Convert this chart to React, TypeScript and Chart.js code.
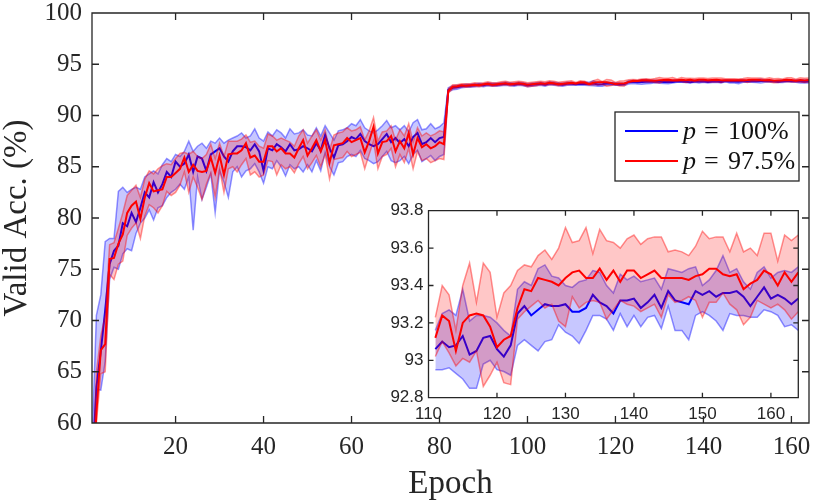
import { useEffect, useRef } from "react";
import { Chart, registerables } from "chart.js";

Chart.register(...registerables);

// epochs 1..164
const epochs = Array.from({ length: 164 }, (_, i) => i + 1);

// p = 100%
const blueMean = [
  55, 63.5, 67, 71, 75.5, 76.8, 77.3, 79.5, 79.2, 80.5,
  79.6, 81, 82.5, 82, 83.5, 82.5, 83.3, 84.5, 84, 85.5,
  85, 85.3, 86.2, 84.5, 86, 85.8, 84.6, 86.2, 86.5, 86.8,
  86, 85.5, 86.5, 87, 87, 86.9, 86.6, 87.2, 86.5, 84.6,
  86.8, 86.6, 87.2, 86.9, 86.5, 87.2, 86.6, 86.7, 87, 86.8,
  86.5, 87.3, 86.6, 88.1, 86.8, 85.9, 87.1, 87.2, 87.5, 87.9,
  87.7, 88.2, 87.5, 87.2, 87, 87.2, 87.7, 88.2, 87.4, 87.8,
  87.3, 87.7, 87, 87.9, 88.3, 87.2, 87.4, 87.8, 87.4, 87.8,
  87.9, 92.5, 92.7, 92.75, 92.85, 92.9, 92.9, 92.95, 93, 92.95,
  93.05, 93, 93, 93.05, 93.1, 93.05, 93, 93.1, 93.05, 92.95,
  93, 93.05, 93.1, 93, 93.15, 93.1, 93.05, 93, 93.1, 93.1,
  93.06, 93.1, 93.07, 93.08, 93.13, 93.03, 93.05, 93.12, 93.13, 93.06,
  93.02, 93.08, 93.25, 93.29, 93.24, 93.27, 93.3, 93.29, 93.29, 93.3,
  93.26, 93.26, 93.28, 93.35, 93.31, 93.29, 93.25, 93.32, 93.32, 93.33,
  93.28, 93.31, 93.35, 93.28, 93.37, 93.32, 93.31, 93.3, 93.37, 93.35,
  93.37, 93.34, 93.36, 93.36, 93.37, 93.34, 93.29, 93.34, 93.39, 93.33,
  93.35, 93.33, 93.3, 93.33,
];
const blueLow = [
  52, 63.3, 63.2, 66, 74, 75.2, 75, 76.5, 77, 76.8,
  78.5, 79.5, 80, 80.8, 79.8, 81, 81.2, 82, 82.5, 82.8,
  83.3, 82.8, 84, 78.8, 84, 81.8, 83, 84.3, 80.5, 84.6,
  83.5, 82, 84.5, 85, 84, 84.6, 84.8, 85.3, 84.5, 83.4,
  85, 84.8, 85.6, 85, 84.1, 85.2, 84.8, 85, 84.5, 85.2,
  84.5, 85.6, 84.6, 86.4, 85, 84.2, 85.4, 85.5, 86, 86.2,
  86, 86.6, 85.8, 85.6, 85.3, 85.5, 86, 86.5, 85.6, 85.4,
  85.6, 86, 85.3, 86.2, 86.6, 85.5, 85.8, 86.1, 85.6, 86,
  86.2, 92.3, 92.5, 92.55, 92.7, 92.75, 92.75, 92.8, 92.85, 92.8,
  92.9, 92.85, 92.85, 92.9, 92.95, 92.9, 92.85, 92.95, 92.9, 92.8,
  92.85, 92.9, 92.95, 92.85, 93, 92.95, 92.9, 92.85, 92.95, 92.95,
  92.95, 92.95, 92.96, 92.93, 92.9, 92.85, 92.85, 92.98, 93, 92.95,
  92.94, 92.92, 93.08, 93.11, 93.08, 93.05, 93.1, 93.11, 93.19, 93.15,
  93.13, 93.09, 93.16, 93.24, 93.24, 93.22, 93.16, 93.25, 93.18, 93.24,
  93.18, 93.23, 93.24, 93.17, 93.29, 93.16, 93.16, 93.11, 93.24, 93.26,
  93.24, 93.21, 93.16, 93.25, 93.24, 93.24, 93.23, 93.23, 93.27, 93.26,
  93.24, 93.18, 93.19, 93.16,
];
const blueHigh = [
  58, 70.5, 72.5, 77.7, 78, 78, 82.6, 83, 82.5, 82.8,
  83, 82.8, 84, 84.3, 84.6, 84.3, 85.2, 85.8, 85.5, 86.2,
  86, 86.5, 87.5, 86.5, 87, 87.3, 86.8, 87.5, 87.3, 87.8,
  87.3, 87.6, 87.8, 88, 88.3, 87.8, 88, 88.7, 87.8, 87.5,
  88.4, 88, 88.6, 88.3, 87.8, 88.7, 88.2, 88.3, 88.6, 88.1,
  88, 88.8, 88, 89, 88.3, 87.6, 88.5, 88.6, 88.8, 89.2,
  89, 89.6, 88.8, 88.5, 88.3, 88.6, 89, 89.5, 88.8, 89,
  88.6, 89, 88.4, 89.3, 89.6, 88.6, 88.7, 89.2, 88.7, 88.9,
  89.3, 92.7, 92.9, 92.95, 93, 93.05, 93.05, 93.1, 93.15, 93.1,
  93.2, 93.15, 93.15, 93.2, 93.25, 93.2, 93.15, 93.25, 93.2, 93.1,
  93.15, 93.2, 93.25, 93.15, 93.3, 93.25, 93.2, 93.15, 93.25, 93.25,
  93.16, 93.25, 93.27, 93.24, 93.38, 93.21, 93.24, 93.24, 93.23, 93.2,
  93.16, 93.13, 93.38, 93.42, 93.4, 93.49, 93.51, 93.45, 93.44, 93.4,
  93.39, 93.42, 93.43, 93.48, 93.47, 93.4, 93.36, 93.46, 93.43, 93.45,
  93.42, 93.43, 93.44, 93.38, 93.49, 93.48, 93.47, 93.49, 93.5, 93.4,
  93.43, 93.48, 93.56, 93.47, 93.49, 93.42, 93.38, 93.47, 93.5, 93.44,
  93.47, 93.48, 93.47, 93.5,
];

// p = 97.5%
const redMean = [
  52, 61, 67.1, 67.7, 76, 76.1, 77.5, 78.4, 80.5, 81.2,
  81.6, 79.9, 82, 83.4, 82.6, 82.7, 82.8, 84, 84, 84.4,
  84.8, 85.9, 84.5, 85.2, 84.6, 84.5, 84.6, 85.9, 84.4, 86.1,
  84.2, 86.2, 86.3, 86.3, 86.6, 87.3, 85.9, 86.1, 85.5, 85.5,
  87, 87, 86.5, 86.8, 86.3, 86.3, 85.9, 86.8, 87.6, 86.1,
  86.8, 87.6, 86.5, 87.6, 85.4, 87.1, 87.2, 87.3, 87.8, 87.4,
  87.6, 87.8, 86.4, 87.5, 88.9, 86.3, 87.4, 87.5, 88, 86.5,
  87.5, 86.8, 88.3, 86.2, 87.8, 86.9, 87.2, 86.8, 87, 87.4,
  87.2, 92.4, 92.8, 92.85, 92.95, 92.9, 92.95, 93, 92.95, 93.05,
  93.1, 93, 93.05, 93.1, 93.15, 93.05, 93.1, 93.15, 93.1, 93,
  93.05, 93.1, 93.15, 93.1, 93.2, 93.15, 93.05, 93.1, 93.15, 93.2,
  93.12, 93.24, 93.21, 93.05, 93.2, 93.24, 93.25, 93.24, 93.18, 93.07,
  93.11, 93.13, 93.28, 93.38, 93.37, 93.44, 93.43, 93.42, 93.4, 93.44,
  93.47, 93.48, 93.44, 93.44, 93.49, 93.43, 93.48, 93.42, 93.48, 93.48,
  93.44, 93.46, 93.48, 93.44, 93.44, 93.44, 93.44, 93.43, 93.45, 93.46,
  93.49, 93.49, 93.46, 93.45, 93.46, 93.38, 93.41, 93.43, 93.48, 93.46,
  93.4, 93.47, 93.42, 93.47,
];
const redLow = [
  50, 60, 64.8, 65, 74.5, 74, 75.5, 75.8, 78.3, 79,
  79.5, 78, 80.2, 81.3, 81, 80.5, 81.2, 82.6, 82.2, 82.5,
  83.2, 84.5, 82.5, 84, 83, 81.8, 83.3, 84.4, 82, 84.8,
  82.5, 84.8, 85, 84.5, 85.2, 85.8, 84.2, 84.5, 84, 84.2,
  85.6, 85.5, 84.2, 85.2, 84.8, 85, 84.4, 85.3, 86, 84.8,
  85.4, 86.1, 85, 86.2, 83.8, 85.7, 85.8, 85.9, 86.5, 86,
  86.2, 86.4, 84.8, 86.2, 87.5, 84.8, 86, 86.2, 86.8, 85,
  86.2, 85.4, 86.8, 84.8, 86.5, 85.6, 85.8, 85.4, 85.6, 85.8,
  85.7, 92.2, 92.6, 92.7, 92.8, 92.75, 92.8, 92.85, 92.8, 92.9,
  92.95, 92.85, 92.9, 92.95, 93, 92.9, 92.95, 93, 92.95, 92.8,
  92.85, 92.9, 93, 92.95, 93, 93, 92.9, 92.95, 93, 93.05,
  93.02, 93.1, 93.04, 92.97, 93.01, 92.99, 93.05, 92.86, 92.92, 92.99,
  92.88, 92.87, 93.22, 93.26, 93.29, 93.32, 93.28, 93.3, 93.21, 93.18,
  93.34, 93.28, 93.31, 93.32, 93.31, 93.22, 93.27, 93.32, 93.3, 93.29,
  93.26, 93.28, 93.3, 93.23, 93.35, 93.31, 93.32, 93.34, 93.32, 93.23,
  93.31, 93.31, 93.36, 93.3, 93.27, 93.19, 93.23, 93.32, 93.3, 93.28,
  93.3, 93.27, 93.22, 93.26,
];
const redHigh = [
  54, 65, 68.5, 70.5, 77.4, 77.6, 79, 80.5, 82.2, 82.7,
  83.2, 82, 83.8, 84.6, 84.3, 84.8, 85.1, 85.3, 85.2, 85.8,
  86.3, 86.4, 86.2, 86.5, 86, 85.8, 86.2, 87.2, 85.8, 87.3,
  86, 87.5, 87.5, 87.5, 87.7, 88.1, 87.4, 87.5, 87, 86.8,
  88.2, 88, 87.6, 87.8, 87.6, 87.4, 87, 88, 88.6, 87.3,
  88, 88.6, 87.6, 88.6, 86.6, 88.1, 88.3, 88.4, 88.8, 88.5,
  88.6, 88.9, 87.6, 88.5, 89.8, 87.5, 88.4, 88.5, 89, 87.6,
  88.6, 88, 89.2, 87.4, 88.8, 88, 88.3, 88, 88.2, 88.5,
  88.4, 92.6, 93, 93, 93.1, 93.1, 93.1, 93.2, 93.15, 93.2,
  93.3, 93.2, 93.2, 93.3, 93.35, 93.25, 93.3, 93.35, 93.3, 93.2,
  93.25, 93.3, 93.35, 93.3, 93.4, 93.35, 93.25, 93.3, 93.35, 93.4,
  93.23, 93.4, 93.35, 93.16, 93.4, 93.52, 93.31, 93.52, 93.47, 93.23,
  93.36, 93.4, 93.48, 93.51, 93.5, 93.56, 93.59, 93.54, 93.6, 93.71,
  93.63, 93.64, 93.71, 93.57, 93.7, 93.64, 93.63, 93.6, 93.65, 93.67,
  93.62, 93.65, 93.66, 93.66, 93.58, 93.59, 93.58, 93.56, 93.61, 93.69,
  93.65, 93.66, 93.66, 93.58, 93.68, 93.58, 93.6, 93.56, 93.68, 93.68,
  93.53, 93.67, 93.64, 93.67,
];

const mainXTicks = [20, 40, 60, 80, 100, 120, 140, 160];
const mainYTicks = [60, 65, 70, 75, 80, 85, 90, 95, 100];
const insetXTicks = [110, 120, 130, 140, 150, 160];
const insetYTicks = [92.8, 93, 93.2, 93.4, 93.6, 93.8];
const legendValues = ["100%", "97.5%"];

const AXIS = "#262626";
const SERIF = "'Liberation Serif', 'Times New Roman', serif";
const SANS = "'Liberation Sans', Arial, sans-serif";
const BLUE = "#0000ff";
const RED = "#ff0000";

function points(values: number[], from: number) {
  return values.slice(from).map((y, i) => ({ x: epochs[from + i], y }));
}

function makeDatasets(from: number) {
  const line = { pointRadius: 0, tension: 0, fill: false };
  return [
    { ...line, data: points(redMean, from), borderColor: RED, borderWidth: 2, order: 0 },
    {
      ...line, data: points(redHigh, from), borderColor: "rgba(255,0,0,0.42)", borderWidth: 1.5,
      backgroundColor: "rgba(255,0,0,0.22)", fill: "+1", order: 1,
    },
    { ...line, data: points(redLow, from), borderColor: "rgba(255,0,0,0.42)", borderWidth: 1.5, order: 1 },
    { ...line, data: points(blueMean, from), borderColor: BLUE, borderWidth: 2, order: 2 },
    {
      ...line, data: points(blueHigh, from), borderColor: "rgba(0,0,255,0.42)", borderWidth: 1.5,
      backgroundColor: "rgba(0,0,255,0.22)", fill: "+1", order: 3,
    },
    { ...line, data: points(blueLow, from), borderColor: "rgba(0,0,255,0.42)", borderWidth: 1.5, order: 3 },
  ];
}

// box around the axes with inward ticks on all four sides (matlab style)
const framePlugin = {
  id: "frame",
  beforeDraw(chart: any, _args: any, opts: any) {
    if (!opts.background) return;
    const { ctx, chartArea: a } = chart;
    ctx.save();
    ctx.fillStyle = opts.background;
    ctx.fillRect(a.left, a.top, a.right - a.left, a.bottom - a.top);
    ctx.restore();
  },
  afterDraw(chart: any, _args: any, opts: any) {
    const { ctx, chartArea: a, scales } = chart;
    const len = opts.tickLen;
    ctx.save();
    ctx.strokeStyle = AXIS;
    ctx.lineWidth = opts.lineWidth;
    ctx.beginPath();
    scales.x.ticks.forEach((t: any) => {
      const px = scales.x.getPixelForValue(t.value);
      ctx.moveTo(px, a.bottom);
      ctx.lineTo(px, a.bottom - len);
      ctx.moveTo(px, a.top);
      ctx.lineTo(px, a.top + len);
    });
    scales.y.ticks.forEach((t: any) => {
      const py = scales.y.getPixelForValue(t.value);
      ctx.moveTo(a.left, py);
      ctx.lineTo(a.left + len, py);
      ctx.moveTo(a.right, py);
      ctx.lineTo(a.right - len, py);
    });
    ctx.rect(a.left, a.top, a.right - a.left, a.bottom - a.top);
    ctx.stroke();
    ctx.restore();
  },
};

const legendPlugin = {
  id: "pLegend",
  afterDraw(chart: any) {
    const { ctx, chartArea: a } = chart;
    const x0 = a.right - 194;
    const y0 = a.top + 99;
    ctx.save();
    ctx.fillStyle = "#fff";
    ctx.fillRect(x0, y0, 184, 69);
    ctx.strokeStyle = AXIS;
    ctx.lineWidth = 1.3;
    ctx.strokeRect(x0, y0, 184, 69);
    [BLUE, RED].forEach((color, i) => {
      const base = y0 + 27 + i * 30;
      ctx.strokeStyle = color;
      ctx.lineWidth = 2;
      ctx.beginPath();
      ctx.moveTo(x0 + 10, base - 8);
      ctx.lineTo(x0 + 63, base - 8);
      ctx.stroke();
      ctx.fillStyle = "#111";
      ctx.textBaseline = "alphabetic";
      ctx.font = `italic 26px ${SERIF}`;
      ctx.fillText("p", x0 + 68, base);
      ctx.font = `26px ${SERIF}`;
      ctx.fillText("=", x0 + 89, base);
      ctx.fillText(legendValues[i], x0 + 113, base);
    });
    ctx.restore();
  },
};

function fixedAxis(size: number, horizontal: boolean) {
  return (scale: any) => {
    if (horizontal) scale.height = size;
    else scale.width = size;
    scale.paddingTop = 0;
    scale.paddingBottom = 0;
    scale.paddingLeft = 0;
    scale.paddingRight = 0;
  };
}

function setTicks(values: number[]) {
  return (scale: any) => {
    scale.ticks = values.map((value) => ({ value }));
  };
}

export default function App() {
  const mainRef = useRef<HTMLCanvasElement | null>(null);
  const insetRef = useRef<HTMLCanvasElement | null>(null);

  useEffect(() => {
    if (!mainRef.current || !insetRef.current) return;

    const mainChart = new Chart(mainRef.current, {
      type: "line",
      data: { datasets: makeDatasets(0) as any },
      plugins: [framePlugin, legendPlugin],
      options: {
        animation: false,
        responsive: true,
        maintainAspectRatio: false,
        events: [],
        layout: { padding: { left: 0, right: 5, top: 13, bottom: 0 } },
        plugins: {
          legend: { display: false },
          tooltip: { enabled: false },
          frame: { tickLen: 7, lineWidth: 1.3 },
        } as any,
        scales: {
          x: {
            type: "linear",
            min: 1,
            max: 164,
            afterBuildTicks: setTicks(mainXTicks),
            afterFit: fixedAxis(79, true),
            grid: { display: false, drawTicks: false },
            border: { display: false },
            ticks: { font: { family: SERIF, size: 25 }, color: AXIS, padding: 9, maxRotation: 0 },
            title: {
              display: true,
              text: "Epoch",
              font: { family: SERIF, size: 33, lineHeight: 1 },
              color: AXIS,
              padding: { top: 0, bottom: 1 },
            },
          },
          y: {
            type: "linear",
            min: 60,
            max: 100,
            afterBuildTicks: setTicks(mainYTicks),
            afterFit: fixedAxis(92, false),
            grid: { display: false, drawTicks: false },
            border: { display: false },
            ticks: { font: { family: SERIF, size: 25 }, color: AXIS, padding: 10 },
            title: {
              display: true,
              text: "Valid Acc. (%)",
              font: { family: SERIF, size: 33, lineHeight: 1 },
              color: AXIS,
              padding: { top: 1, bottom: 0 },
            },
          },
        },
      },
    });

    const insetChart = new Chart(insetRef.current, {
      type: "line",
      data: { datasets: makeDatasets(110) as any },
      plugins: [framePlugin],
      options: {
        animation: false,
        responsive: true,
        maintainAspectRatio: false,
        events: [],
        layout: { padding: { left: 0, right: 11.7, top: 15.7, bottom: 0 } },
        plugins: {
          legend: { display: false },
          tooltip: { enabled: false },
          frame: { tickLen: 5, lineWidth: 1.3, background: "#ffffff" },
        } as any,
        scales: {
          x: {
            type: "linear",
            min: 110,
            max: 164,
            afterBuildTicks: setTicks(insetXTicks),
            afterFit: fixedAxis(42.3, true),
            grid: { display: false, drawTicks: false },
            border: { display: false },
            ticks: { font: { family: SANS, size: 17 }, color: AXIS, padding: 6, maxRotation: 0 },
          },
          y: {
            type: "linear",
            min: 92.8,
            max: 93.8,
            afterBuildTicks: setTicks(insetYTicks),
            afterFit: fixedAxis(68.5, false),
            grid: { display: false, drawTicks: false },
            border: { display: false },
            ticks: {
              font: { family: SANS, size: 17 },
              color: AXIS,
              padding: 5,
              callback: (v: any) => String(Number(Number(v).toFixed(1))),
            },
          },
        },
      },
    });

    return () => {
      mainChart.destroy();
      insetChart.destroy();
    };
  }, []);

  return (
    <div style={{ position: "fixed", left: 0, top: 0, width: 814, height: 502, background: "#fff" }}>
      <div style={{ position: "absolute", left: 0, top: 0, width: 814, height: 502 }}>
        <canvas ref={mainRef}></canvas>
      </div>
      <div style={{ position: "absolute", left: 360, top: 195, width: 450, height: 245 }}>
        <canvas ref={insetRef}></canvas>
      </div>
    </div>
  );
}
